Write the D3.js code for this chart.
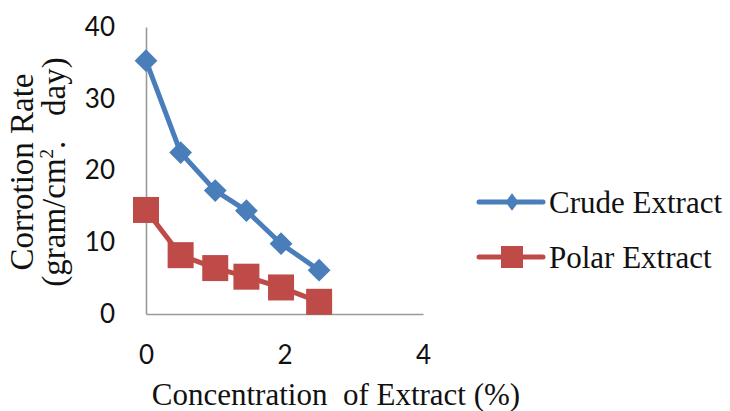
<!DOCTYPE html>
<html>
<head>
<meta charset="utf-8">
<script src="https://cdn.jsdelivr.net/npm/d3@7"></script>
<style>
  body { margin: 0; background: #fff; }
</style>
</head>
<body>
<div id="chart"></div>
<script>
const width = 730;
const height = 411;

// data
const concentration = [0, 0.5, 1, 1.45, 1.95, 2.5];
const crudeRate = [35.3, 22.5, 17.2, 14.4, 9.8, 6.1];
const polarRate = [14.5, 8.2, 6.4, 5.2, 3.7, 1.7];
const xTicks = [0, 2, 4];
const yTicks = [0, 10, 20, 30, 40];
const seriesNames = ["Crude Extract", "Polar Extract"];
const colors = ["#4a7ebb", "#be4b48"];

const svg = d3.select("#chart").append("svg").attr("width", width).attr("height", height);

const x = d3.scaleLinear().domain([0, 4]).range([146, 423]);
const y = d3.scaleLinear().domain([0, 40]).range([314, 27]);

const tickFont = "Lato, 'Open Sans', sans-serif";
const titleFont = "'Liberation Serif', 'Times New Roman', serif";

// axes
const yAxis = svg.append("g").attr("transform", `translate(${x(0)},0)`)
  .call(d3.axisLeft(y).tickValues(yTicks).tickFormat(d3.format("d")).tickSize(0).tickPadding(31));
const xAxis = svg.append("g").attr("transform", `translate(0,${y(0)})`)
  .call(d3.axisBottom(x).tickValues(xTicks).tickFormat(d3.format("d")).tickSize(0).tickPadding(32));

[xAxis, yAxis].forEach((g) => {
  g.select(".domain").attr("stroke", "#9a9a9a").attr("stroke-width", 1.6);
  g.selectAll("text").attr("font-family", tickFont).attr("font-size", 26).attr("fill", "#111");
});

// axis titles
svg.append("text")
  .attr("x", 336).attr("y", 405)
  .attr("text-anchor", "middle")
  .attr("font-family", titleFont).attr("font-size", 31).attr("fill", "#111")
  .attr("xml:space", "preserve")
  .text("Concentration  of Extract (%)");

const yTitle = svg.append("text")
  .attr("transform", "translate(33,172) rotate(-90)")
  .attr("text-anchor", "middle")
  .attr("font-family", titleFont).attr("font-size", 33).attr("fill", "#111");
yTitle.append("tspan").attr("x", 0).attr("y", 0).text("Corrotion Rate");
const t2 = yTitle.append("tspan").attr("x", 0).attr("dy", 32).attr("xml:space", "preserve");
t2.append("tspan").text("(gram/cm");
t2.append("tspan").attr("font-size", 19).attr("dy", -12).text("2");
t2.append("tspan").attr("dy", 12).text(".   day)");

// series
const series = [crudeRate, polarRate];
const line = d3.line().x((d, i) => x(concentration[i])).y((d) => y(d));

series.forEach((vals, s) => {
  svg.append("path")
    .datum(vals)
    .attr("d", line)
    .attr("fill", "none")
    .attr("stroke", colors[s])
    .attr("stroke-width", 5)
    .attr("stroke-linejoin", "round");
});

// crude markers: diamonds
svg.selectAll(".crude")
  .data(crudeRate)
  .enter().append("path")
  .attr("d", d3.symbol(d3.symbolDiamond2, 330))
  .attr("transform", (d, i) => `translate(${x(concentration[i])},${y(d)})`)
  .attr("fill", colors[0]);

// polar markers: squares
svg.selectAll(".polar")
  .data(polarRate)
  .enter().append("rect")
  .attr("x", (d, i) => x(concentration[i]) - 13)
  .attr("y", (d) => y(d) - 13)
  .attr("width", 26).attr("height", 26)
  .attr("fill", colors[1]);

// legend
const legend = svg.append("g");
[202, 257].forEach((ly, s) => {
  legend.append("line")
    .attr("x1", 479).attr("x2", 543).attr("y1", ly).attr("y2", ly)
    .attr("stroke", colors[s]).attr("stroke-width", 5).attr("stroke-linecap", "round");
  if (s === 0) {
    legend.append("path")
      .attr("d", d3.symbol(d3.symbolDiamond2, 150))
      .attr("transform", `translate(512,${ly}) scale(0.85,1.15)`)
      .attr("fill", colors[s]);
  } else {
    legend.append("rect")
      .attr("x", 501).attr("y", ly - 11).attr("width", 22).attr("height", 22)
      .attr("fill", colors[s]);
  }
  legend.append("text")
    .attr("x", 549).attr("y", ly + 11)
    .attr("font-family", titleFont).attr("font-size", 31).attr("fill", "#111")
    .text(seriesNames[s]);
});
</script>
</body>
</html>
